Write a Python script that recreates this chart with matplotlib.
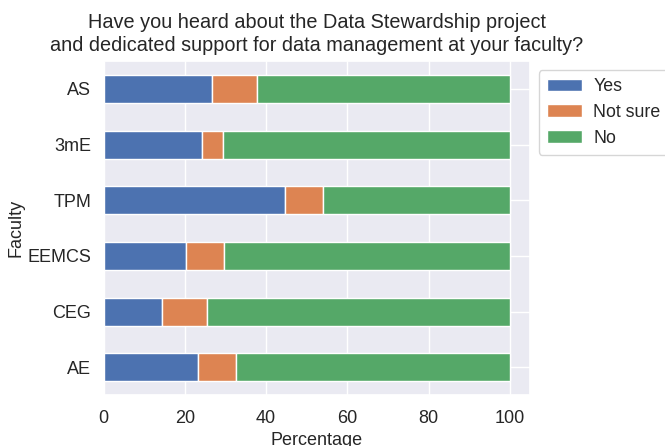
import numpy as np
import matplotlib
matplotlib.use('Agg')
import matplotlib.pyplot as plt
import seaborn as sns

# Data (percentages)
faculties = ['AE', 'CEG', 'EEMCS', 'TPM', '3mE', 'AS']
yes = [23.2, 14.4, 20.2, 44.7, 24.3, 26.6]
not_sure = [9.4, 11.0, 9.5, 9.4, 5.0, 11.2]
no = [67.4, 74.6, 70.3, 45.9, 70.7, 62.2]

sns.set_theme(style='darkgrid', palette='deep', font_scale=1.2)
plt.rcParams['font.family'] = ['Liberation Sans', 'DejaVu Sans']

fig = plt.figure(figsize=(6.65, 4.46), dpi=100)
ax = fig.add_axes([0.156, 0.114, 0.641, 0.749])

colors = sns.color_palette('deep')
y = np.arange(len(faculties))
left = np.zeros(len(faculties))
for vals, lab, col in [(yes, 'Yes', colors[0]), (not_sure, 'Not sure', colors[1]), (no, 'No', colors[2])]:
	ax.barh(y, vals, left=left, height=0.5, color=col, label=lab)
	left += np.array(vals)

ax.set_yticks(y)
ax.set_yticklabels(faculties)
ax.set_ylim(-0.5, len(faculties) - 0.5)
ax.set_xticks([0, 20, 40, 60, 80, 100])
ax.set_xlabel('Percentage', fontsize=13, labelpad=3)
ax.set_ylabel('Faculty', fontsize=13, labelpad=2)
ax.tick_params(axis='y', labelsize=13, pad=3)
ax.tick_params(axis='x', labelsize=13, pad=5)
ax.set_title('Have you heard about the Data Stewardship project\nand dedicated support for data management at your faculty?',
	fontsize=14.3, pad=7, linespacing=1.3)

ax.legend(loc='upper left', bbox_to_anchor=(1.0, 1.0), borderaxespad=0.5, fontsize=12.8,
	frameon=True, facecolor='white', handlelength=2.0, handletextpad=0.6, borderpad=0.45,
	labelspacing=0.5)

fig.savefig('out.png', dpi=100)
